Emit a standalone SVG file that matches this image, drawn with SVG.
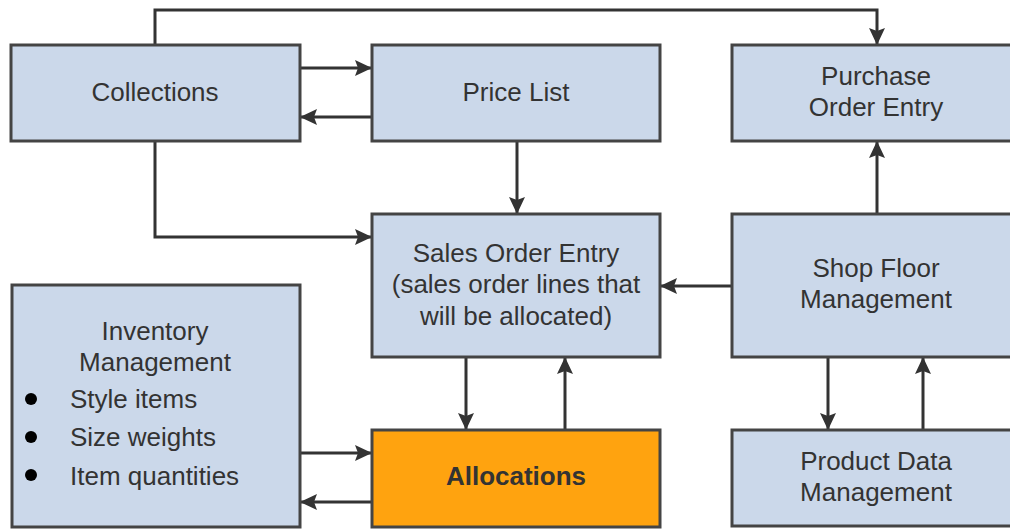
<svg xmlns="http://www.w3.org/2000/svg" width="1010" height="529" viewBox="0 0 1010 529">
<defs>
<marker id="ah" viewBox="0 0 17 16" refX="17" refY="8" markerWidth="17" markerHeight="16" markerUnits="userSpaceOnUse" orient="auto">
<path d="M0,0 L17,8 L0,16 L3,8 Z" fill="#333"/>
</marker>
<style>
.box{fill:#CBD8EA;stroke:#444;stroke-width:3}
.alloc{fill:#FFA30F;stroke:#444;stroke-width:3}
.t{font-family:"Liberation Sans",Arial,sans-serif;font-size:26px;fill:#333;text-anchor:middle}
.tl{font-family:"Liberation Sans",Arial,sans-serif;font-size:26px;fill:#333}
.c{fill:none;stroke:#333;stroke-width:3;marker-end:url(#ah)}
</style>
</defs>
<rect width="1010" height="529" fill="#fff"/>
<g id="connectors">
<path class="c" d="M155,45 V10 H877 V45"/>
<path class="c" d="M300,68 H372"/>
<path class="c" d="M372,117 H300"/>
<path class="c" d="M155,141 V237 H372"/>
<path class="c" d="M517,141 V214"/>
<path class="c" d="M732,286 H660"/>
<path class="c" d="M877,214 V141"/>
<path class="c" d="M466,357 V430"/>
<path class="c" d="M565,430 V357"/>
<path class="c" d="M828,357 V430"/>
<path class="c" d="M923,430 V357"/>
<path class="c" d="M300,453 H372"/>
<path class="c" d="M372,502 H300"/>
</g>
<g id="collections">
<rect class="box" x="11" y="45" width="289" height="96"/>
<text class="t" x="155" y="101">Collections</text>
</g>
<g id="price-list">
<rect class="box" x="372" y="45" width="288" height="96"/>
<text class="t" x="516" y="101">Price List</text>
</g>
<g id="purchase-order-entry">
<rect class="box" x="732" y="45" width="290" height="96"/>
<text class="t" x="876" y="85">Purchase</text>
<text class="t" x="876" y="116">Order Entry</text>
</g>
<g id="sales-order-entry">
<rect class="box" x="372" y="214" width="288" height="143"/>
<text class="t" x="516" y="262">Sales Order Entry</text>
<text class="t" x="516" y="293">(sales order lines that</text>
<text class="t" x="516" y="325">will be allocated)</text>
</g>
<g id="shop-floor-management">
<rect class="box" x="732" y="214" width="290" height="143"/>
<text class="t" x="876" y="277">Shop Floor</text>
<text class="t" x="876" y="308">Management</text>
</g>
<g id="inventory-management">
<rect class="box" x="12" y="285" width="288" height="242"/>
<text class="t" x="155" y="340">Inventory</text>
<text class="t" x="155" y="371">Management</text>
<circle cx="31" cy="399" r="6" fill="#000"/>
<circle cx="31" cy="437" r="6" fill="#000"/>
<circle cx="31" cy="475" r="6" fill="#000"/>
<text class="tl" x="70" y="408">Style items</text>
<text class="tl" x="70" y="446">Size weights</text>
<text class="tl" x="70" y="485">Item quantities</text>
</g>
<g id="allocations">
<rect class="alloc" x="372" y="430" width="288" height="97"/>
<text class="t" x="516" y="485" font-weight="bold">Allocations</text>
</g>
<g id="product-data-management">
<rect class="box" x="732" y="430" width="290" height="96"/>
<text class="t" x="876" y="470">Product Data</text>
<text class="t" x="876" y="501">Management</text>
</g>
</svg>
